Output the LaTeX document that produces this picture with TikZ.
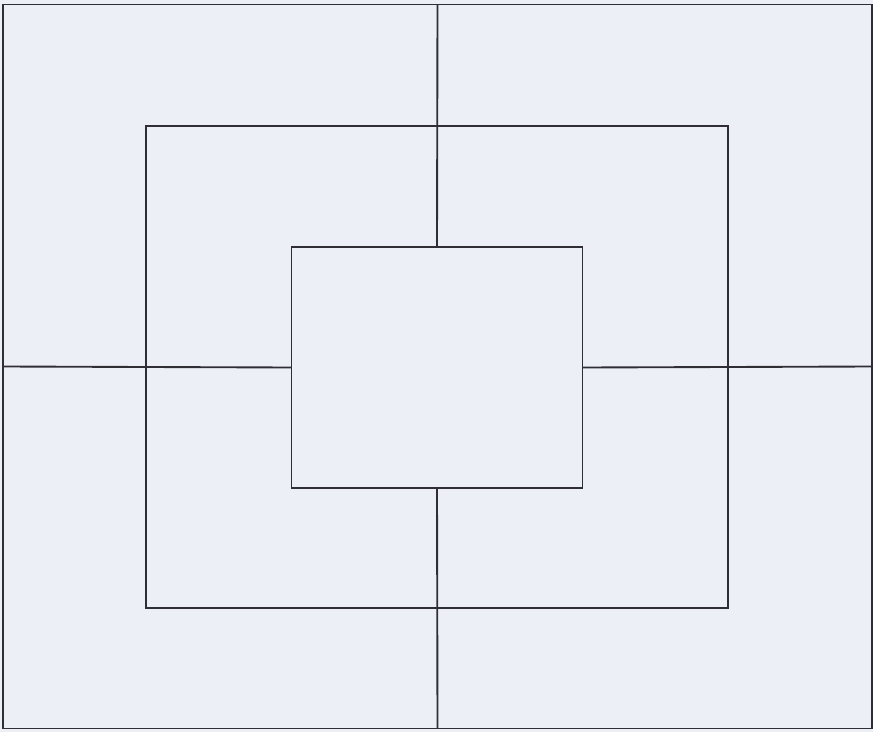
\documentclass[tikz,border=0pt]{standalone}
\usepackage{tikz}
\usetikzlibrary{positioning}
\definecolor{NestPaper}{RGB}{237,239,247}
\definecolor{NestInk}{RGB}{46,46,52}
\tikzset{
  nest/box/.style={
    draw=NestInk,
    line width=1.6pt,
    inner sep=0pt,
    outer sep=0pt
  },
  nest/core/.style={
    nest/box,
    fill=NestPaper
  },
  nest/line/.style={draw=NestInk, line width=1.6pt}
}
\begin{document}
\begin{tikzpicture}[x=0.03cm,y=-0.03cm]
  \fill[NestPaper] (0,0) rectangle (873,732);
  \useasboundingbox (0,0) rectangle (873,732);
  \node[nest/box,minimum width=26.07cm,minimum height=21.72cm] (frame) at (437.5,366.5) {};
  \node[nest/box,minimum width=17.46cm,minimum height=14.46cm] (mid) at (437,367) {};
  \node[nest/core,minimum width=8.73cm,minimum height=7.23cm] (core) at (437,367.5) {};
  \draw[nest/line] (frame.north) -- (core.north);
  \draw[nest/line] (core.south) -- (frame.south);
  \draw[nest/line] (frame.west) -- (core.west);
  \draw[nest/line] (core.east) -- (frame.east);
\end{tikzpicture}
\end{document}
